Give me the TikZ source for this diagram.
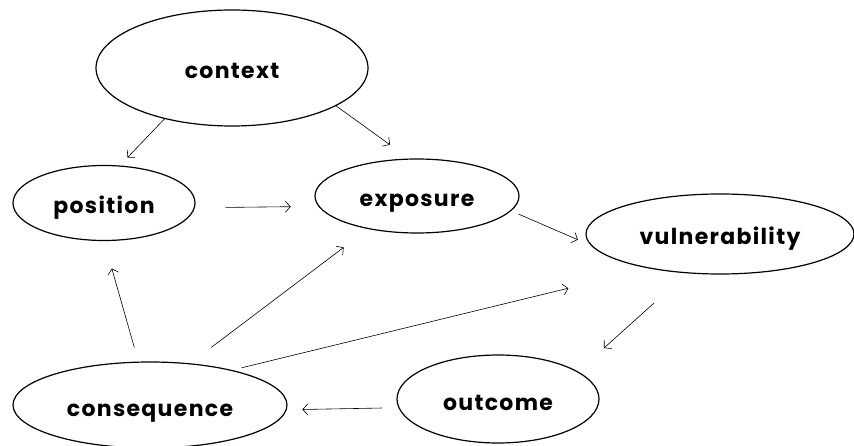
\documentclass[tikz,border=0pt]{standalone}
\usepackage{fontspec}
\setmainfont{Poppins}[LetterSpace=6]
\usepackage{tikz}
\usetikzlibrary{shapes.geometric, arrows.meta}
\tikzstyle{arrow} = [line width=0.6pt, -{Straight Barb[length=5pt, width=11pt]}]
\tikzstyle{oval}  = [ellipse, draw, line width=1.2pt, inner sep=0pt, text height=22pt, text depth=0pt,
                     font=\fontsize{22}{26}\selectfont\bfseries]

\begin{document}
\begin{tikzpicture}[x=1pt, y=-1pt]
    \useasboundingbox (0,0) rectangle (854,446);

    \node (context)  at (232, 68)  [oval, minimum width=272pt, minimum height=116pt] {context};
    \node (position) at (104, 203) [oval, minimum width=182pt, minimum height=75pt]  {position};
    \node (exposure) at (417, 196) [oval, minimum width=204pt, minimum height=74pt]  {exposure};
    \node (vuln)     at (720, 234) [oval, minimum width=268pt, minimum height=80pt]  {vulnerability};
    \node (outcome)  at (498, 399) [oval, minimum width=202pt, minimum height=88pt]  {outcome};
    \node (conseq)   at (150, 405) [oval, minimum width=274pt, minimum height=86pt]  {consequence};

    \draw [arrow, shorten >=11pt]                   (context.217)  -- (position.67.4);
    \draw [arrow, shorten >=23.5pt]                 (context.340)  -- (exposure.102.5);
    \draw [arrow, shorten <=30.5pt, shorten >=27.6pt] (position.357.5) -- (exposure.186.4);
    \draw [arrow, shorten <=8pt, shorten >=14pt]    (exposure.351.8) -- (vuln.185.2);
    \draw [arrow, shorten <=44pt, shorten >=35pt]   (vuln.230.5)   -- (outcome.19.4);
    \draw [arrow, shorten <=16.6pt, shorten >=15.6pt] (outcome.185.8) -- (conseq.358.3);
    \draw [arrow, shorten <=14.7pt, shorten >=28.5pt] (conseq.105.8) -- (position.270.7);
    \draw [arrow, shorten <=26.3pt, shorten >=30.5pt] (conseq.46.7)  -- (exposure.214.5);
    \draw [arrow, shorten <=9.6pt, shorten >=83.2pt]  (conseq.23.3)  -- (vuln.206.8);
\end{tikzpicture}
\end{document}
